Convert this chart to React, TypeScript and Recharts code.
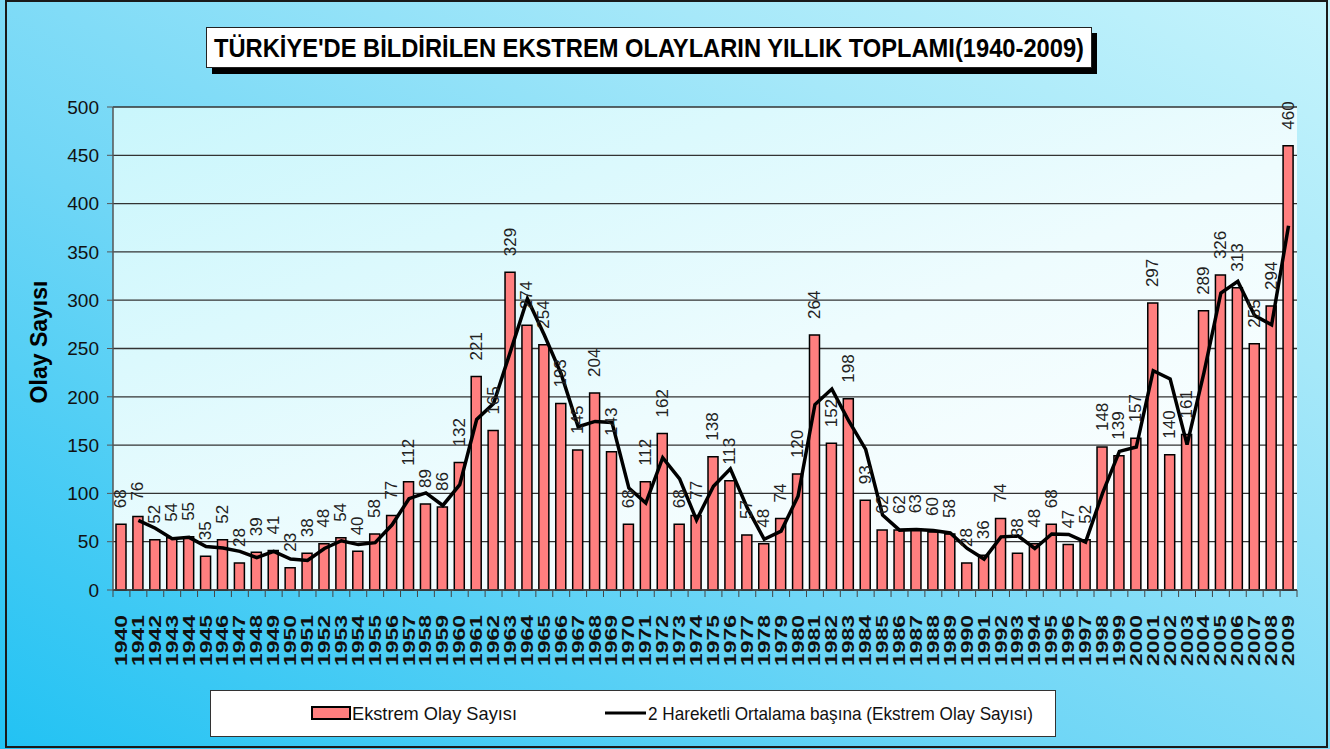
import { ComposedChart, Bar, Line, XAxis, YAxis, CartesianGrid, LabelList } from "recharts";

// yıllar
const years = [
  "1940", "1941", "1942", "1943", "1944", "1945", "1946", "1947", "1948", "1949",
  "1950", "1951", "1952", "1953", "1954", "1955", "1956", "1957", "1958", "1959",
  "1960", "1961", "1962", "1963", "1964", "1965", "1966", "1967", "1968", "1969",
  "1970", "1971", "1972", "1973", "1974", "1975", "1976", "1977", "1978", "1979",
  "1980", "1981", "1982", "1983", "1984", "1985", "1986", "1987", "1988", "1989",
  "1990", "1991", "1992", "1993", "1994", "1995", "1996", "1997", "1998", "1999",
  "2000", "2001", "2002", "2003", "2004", "2005", "2006", "2007", "2008", "2009",
];

// Ekstrem Olay Sayısı
const eventCounts = [
  68, 76, 52, 54, 55, 35, 52, 28, 39, 41,
  23, 38, 48, 54, 40, 58, 77, 112, 89, 86,
  132, 221, 165, 329, 274, 254, 193, 145, 204, 143,
  68, 112, 162, 68, 77, 138, 113, 57, 48, 74,
  120, 264, 152, 198, 93, 62, 62, 63, 60, 58,
  28, 36, 74, 38, 48, 68, 47, 52, 148, 139,
  157, 297, 140, 161, 289, 326, 313, 255, 294, 460,
];

// 2 hareketli ortalama
const movingAvg = [
  null, 72, 64, 53, 54.5, 45, 43.5, 40, 33.5, 40,
  32, 30.5, 43, 51, 47, 49, 67.5, 94.5, 100.5, 87.5,
  109, 176.5, 193, 247, 301.5, 264, 223.5, 169, 174.5, 173.5,
  105.5, 90, 137, 115, 72.5, 107.5, 125.5, 85, 52.5, 61,
  97, 192, 208, 175, 145.5, 77.5, 62, 62.5, 61.5, 59,
  43, 32, 55, 56, 43, 58, 57.5, 49.5, 100, 143.5,
  148, 227, 218.5, 150.5, 225, 307.5, 319.5, 284, 274.5, 377,
];

const yTicks = [0, 50, 100, 150, 200, 250, 300, 350, 400, 450, 500];

const data = years.map((y, i) => ({ year: y, count: eventCounts[i], avg: movingAvg[i] }));

const W = 1330;
const H = 749;
const PLOT_LEFT = 113;
const PLOT_RIGHT = 1297;
const PLOT_BOTTOM = 590;
const BAND = (PLOT_RIGHT - PLOT_LEFT) / years.length;
const FONT = "'Liberation Sans', Arial, sans-serif";

const YearTick = (props: any) => {
  const { x, payload, index } = props;
  const tx = x;
  const ty = PLOT_BOTTOM + 25;
  return (
    <g>
      <line x1={x - BAND / 2} x2={x - BAND / 2} y1={PLOT_BOTTOM} y2={PLOT_BOTTOM + 7} stroke="#444" strokeWidth={1} />
      {index === years.length - 1 && (
        <line x1={x + BAND / 2} x2={x + BAND / 2} y1={PLOT_BOTTOM} y2={PLOT_BOTTOM + 7} stroke="#444" strokeWidth={1} />
      )}
      <text
        x={tx}
        y={ty}
        transform={`rotate(-90, ${tx}, ${ty})`}
        textAnchor="end"
        dominantBaseline="central"
        fontSize={17}
        fontWeight="bold"
        fontFamily={FONT}
        fill="#111"
        textLength={51}
        lengthAdjust="spacingAndGlyphs"
      >
        {payload.value}
      </text>
    </g>
  );
};

const BarLabel = (props: any) => {
  const { x, y, width, value } = props;
  const cx = x + width / 2;
  const cy = y - 16;
  return (
    <text
      x={cx}
      y={cy}
      transform={`rotate(-90, ${cx}, ${cy})`}
      textAnchor="start"
      dominantBaseline="central"
      fontSize={17}
      fontFamily={FONT}
      fill="#222"
    >
      {value}
    </text>
  );
};

export default function App() {
  return (
    <div
      style={{
        position: "absolute",
        left: 0,
        top: 0,
        width: W,
        height: H,
        overflow: "hidden",
        background: "linear-gradient(to top right, #22c2f3 0%, #6fd6f6 40%, #a6e8f9 75%, #c6f4fc 100%)",
      }}
    >
      <div
        style={{
          position: "absolute",
          left: 5,
          top: 0,
          right: 2,
          bottom: 1,
          border: "2px solid #1a1a1a",
          boxSizing: "border-box",
        }}
      />

      {/* başlık */}
      <div
        style={{
          position: "absolute",
          left: 212,
          top: 33,
          width: 885,
          height: 41,
          background: "#000",
        }}
      />
      <svg style={{ position: "absolute", left: 206, top: 27 }} width={887} height={42}>
        <rect x={0.5} y={0.5} width={885} height={40} fill="#fff" stroke="#222" strokeWidth={1} />
        <g transform="translate(8, 21) scale(1, 1.38)">
          <text
            x={0}
            y={0}
            textLength={870}
            lengthAdjust="spacingAndGlyphs"
            dominantBaseline="central"
            fontSize={19}
            fontWeight="bold"
            fontFamily={FONT}
            fill="#000"
          >
            TÜRKİYE'DE BİLDİRİLEN EKSTREM OLAYLARIN YILLIK TOPLAMI(1940-2009)
          </text>
        </g>
      </svg>

      {/* eksen başlığı */}
      <svg style={{ position: "absolute", left: 18, top: 250 }} width={42} height={190}>
        <text
          x={21}
          y={92}
          transform="rotate(-90, 21, 92)"
          textAnchor="middle"
          dominantBaseline="central"
          fontSize={23}
          fontWeight="bold"
          fontFamily={FONT}
          fill="#000"
        >
          Olay Sayısı
        </text>
      </svg>

      <div style={{ position: "absolute", left: 0, top: 0 }}>
        <ComposedChart
          width={W}
          height={H}
          data={data}
          margin={{ top: 107, right: W - PLOT_RIGHT, left: 0, bottom: H - PLOT_BOTTOM - 70 }}
        >
          <defs>
            <linearGradient id="plotBg" x1="0" y1="0" x2="1" y2="1">
              <stop offset="0%" stopColor="#c9f6fc" />
              <stop offset="55%" stopColor="#eefcfe" />
              <stop offset="100%" stopColor="#ffffff" />
            </linearGradient>
          </defs>
          <CartesianGrid vertical={false} stroke="#333" strokeWidth={1.3} fill="url(#plotBg)" fillOpacity={1} />
          <XAxis
            dataKey="year"
            interval={0}
            height={70}
            tickLine={false}
            axisLine={{ stroke: "#444", strokeWidth: 1.5 }}
            tick={<YearTick />}
          />
          <YAxis
            width={PLOT_LEFT}
            domain={[0, 500]}
            ticks={yTicks}
            tickSize={6}
            tickMargin={8}
            axisLine={{ stroke: "#555", strokeWidth: 1.5 }}
            tickLine={{ stroke: "#555" }}
            tick={{ fontSize: 19, fontFamily: FONT, fill: "#111" }}
          />
          <YAxis
            yAxisId="r"
            orientation="right"
            width={0}
            domain={[0, 500]}
            tick={false}
            axisLine={{ stroke: "#666", strokeWidth: 1.5 }}
          />
          <Bar dataKey="count" barSize={10} fill="#ff7f7f" stroke="#000" strokeWidth={1.5} isAnimationActive={false}>
            <LabelList dataKey="count" content={<BarLabel />} />
          </Bar>
          <Line
            dataKey="avg"
            type="linear"
            stroke="#000"
            strokeWidth={3.5}
            dot={false}
            activeDot={false}
            connectNulls={false}
            isAnimationActive={false}
          />
        </ComposedChart>
      </div>

      {/* lejant */}
      <svg style={{ position: "absolute", left: 210, top: 690 }} width={846} height={48}>
        <rect x={0.5} y={0.5} width={845} height={46} fill="#fff" stroke="#333" strokeWidth={1} />
        <rect x={102} y={17} width={38} height={12} fill="#ff7f7f" stroke="#000" strokeWidth={2} />
        <g transform="translate(142, 23) scale(1, 1.2)">
          <text x={0} y={0} dominantBaseline="central" fontSize={16} fontFamily={FONT} fill="#111" textLength={165} lengthAdjust="spacingAndGlyphs">
            Ekstrem Olay Sayısı
          </text>
        </g>
        <line x1={395} x2={436} y1={23} y2={23} stroke="#000" strokeWidth={3} />
        <g transform="translate(438, 23) scale(1, 1.2)">
          <text x={0} y={0} dominantBaseline="central" fontSize={16} fontFamily={FONT} fill="#111" textLength={385} lengthAdjust="spacingAndGlyphs">
            2 Hareketli Ortalama başına (Ekstrem Olay Sayısı)
          </text>
        </g>
      </svg>
    </div>
  );
}
